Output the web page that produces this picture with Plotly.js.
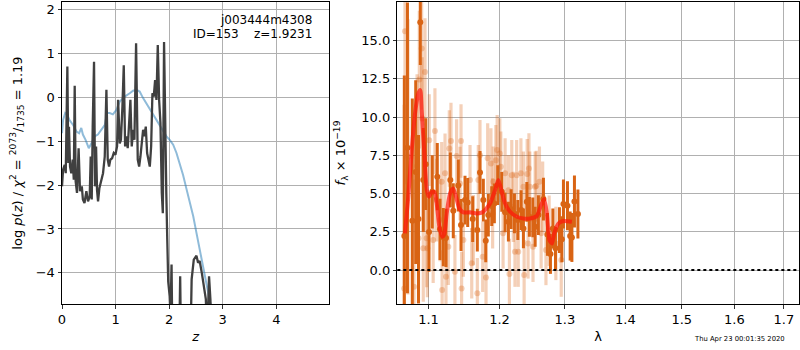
<!DOCTYPE html>
<html>
<head>
<meta charset="utf-8">
<script src="https://cdn.plot.ly/plotly-3.0.1.min.js"></script>
<style>
  html, body { margin: 0; padding: 0; background: #fff; }
  #chart { width: 800px; height: 350px; }
</style>
</head>
<body>
<div id="chart"></div>
<script>
// ---------------- Left panel: redshift PDF ----------------
const zGrid = [0.00,0.02,0.05,0.07,0.10,0.118,0.13,0.15,0.174,0.20,0.22,0.237,0.255,0.28,0.31,0.336,0.37,0.39,0.42,0.455,0.486,0.517,0.536,0.555,0.573,0.598,0.617,0.636,0.654,0.673,0.698,0.735,0.766,0.798,0.829,0.854,0.878,0.903,0.935,0.966,0.997,1.028,1.047,1.078,1.10,1.128,1.153,1.178,1.20,1.227,1.252,1.277,1.302,1.327,1.352,1.383,1.414,1.44,1.464,1.489,1.514,1.539,1.564,1.589,1.614,1.639,1.664,1.688,1.713,1.738,1.763,1.788,1.813,1.838,1.863,1.882,1.905,1.925,1.947,1.965,1.983,2.01,2.025,2.045,2.06,2.19,2.206,2.22,2.40,2.42,2.46,2.51,2.54,2.57,2.61,2.648,2.685,2.71,2.745,2.77,2.80];
const logPz = [-2.03,-1.65,-1.54,-1.73,0.70,-1.50,-0.67,-1.58,-1.73,-1.42,-1.88,0.26,-1.92,-2.18,-1.16,-2.14,-2.03,-2.33,-2.41,-2.14,-2.37,-2.26,-1.35,-2.33,-0.67,0.81,-2.03,-1.12,-2.11,-2.37,-2.07,-1.88,-1.73,-1.35,0.17,-1.42,-1.58,-1.42,-1.39,-1.27,-1.31,-1.12,-0.06,-1.05,-0.97,-0.21,0.73,-1.12,-0.89,-1.16,-0.67,-0.06,-1.12,-0.74,-0.97,1.23,-1.42,-1.58,-1.35,-1.05,-0.74,-0.89,-0.67,-1.27,-1.42,-1.58,-1.12,0.09,0.015,0.39,-0.06,1.19,-0.06,-0.59,-2.18,-2.64,1.26,-0.82,-2.18,-3.24,-4.2,-4.53,-5.0,-3.81,-5.5,-5.5,-4.08,-5.5,-5.5,-4.15,-3.70,-3.61,-3.77,-3.73,-4.00,-4.30,-4.60,-5.5,-4.08,-4.60,-5.5];

const zPrior = [0.00,0.02,0.06,0.10,0.14,0.206,0.27,0.32,0.36,0.39,0.44,0.50,0.55,0.61,0.67,0.735,0.80,0.84,0.89,0.95,1.016,1.078,1.17,1.265,1.327,1.39,1.45,1.514,1.61,1.70,1.794,1.888,1.95,2.01,2.075,2.137,2.20,2.26,2.32,2.386,2.45,2.51,2.57,2.636,2.70,2.76,2.79];
const logPrior = [-0.82,-0.52,-0.36,-0.40,-0.52,-0.63,-0.78,-0.82,-0.70,-0.85,-0.97,-1.16,-1.05,-0.89,-0.85,-0.74,-0.63,-0.36,-0.36,-0.39,-0.29,-0.10,0.015,0.09,0.15,0.17,0.13,-0.02,-0.21,-0.40,-0.59,-0.78,-0.89,-0.97,-1.08,-1.27,-1.50,-1.77,-2.07,-2.37,-2.71,-3.09,-3.47,-3.85,-4.23,-4.64,-4.83];

// ---------------- Right panel: spectrum ----------------
const lamData = [1.0679,1.0720,1.0784,1.0829,1.0866,1.0890,1.0930,1.0963,1.1007,1.1051,1.1119,1.1156,1.1201,1.1238,1.1298,1.1339,1.1409,1.1447,1.1503,1.1541,1.1612,1.1678,1.1716,1.1764,1.1799,1.1836,1.1886,1.1924,1.1974,1.2033,1.2082,1.2131,1.2171,1.2221,1.2272,1.2321,1.2356,1.2408,1.2447,1.2499,1.2535,1.2585,1.2663,1.2725,1.2772,1.2810,1.2851,1.2913,1.2952,1.2977,1.3041,1.3084,1.3112,1.3153,1.3209];
const fluxData = [2.22,7.99,3.22,6.40,3.33,16.2,5.88,6.92,2.48,5.11,6.10,2.66,2.15,2.10,5.88,3.87,5.53,2.94,4.57,4.42,3.33,2.61,6.38,4.57,1.91,3.59,4.18,4.35,5.55,5.11,3.77,3.16,3.98,3.70,3.27,3.92,2.72,4.46,3.48,3.44,2.83,3.59,4.64,2.33,1.05,2.72,1.42,2.61,2.02,4.31,4.20,2.22,2.13,4.48,3.66];
const errData = [10.5,9.5,8.0,6.0,5.5,2.8,3.4,3.0,2.6,2.4,2.2,2.0,1.9,1.9,1.8,1.8,1.7,1.7,1.6,1.6,1.5,1.4,1.4,1.4,1.4,1.4,1.3,1.3,1.3,1.3,1.3,1.3,1.3,1.3,1.3,1.3,1.3,1.3,1.3,1.3,1.3,1.3,1.4,1.4,1.3,1.3,1.4,1.5,1.5,1.6,1.6,1.6,1.6,1.7,1.6];

const lamFaded = [1.0677,1.0688,1.0727,1.0806,1.0847,1.0866,1.0877,1.0908,1.0916,1.0930,1.0953,1.0975,1.0985,1.1010,1.1063,1.1087,1.1110,1.1156,1.1179,1.1185,1.1225,1.1238,1.1270,1.1284,1.1307,1.1362,1.1385,1.1433,1.1447,1.1455,1.1480,1.1574,1.1598,1.1621,1.1678,1.1692,1.1716,1.1755,1.1803,1.1827,1.1874,1.1899,1.1908,1.1946,1.1965,1.2004,1.2019,1.2052,1.2082,1.2131,1.2146,1.2181,1.2204,1.2229,1.2254,1.2278,1.2318,1.2356,1.2367,1.2413,1.2427,1.2440,1.2453,1.2502,1.2535,1.2552,1.2601,1.2627,1.2651,1.2702,1.2752,1.2857,1.2942];
const fluxFaded = [-1.20,15.6,7.4,-1.09,6.8,2.07,12.45,14.48,9.91,1.42,12.95,2.07,1.42,8.49,1.96,9.08,4.57,3.27,5.77,-1.31,6.32,-0.44,1.52,7.95,8.43,-0.11,7.45,5.66,8.43,-1.20,1.96,5.88,0.44,2.61,-1.52,5.88,7.51,0.87,-0.48,7.30,6.97,3.70,5.77,7.18,7.84,7.62,6.75,2.40,6.32,5.22,-0.26,6.20,4.13,1.20,6.20,1.20,6.32,5.44,-0.33,6.27,1.74,6.64,5.44,1.52,5.44,5.49,5.77,2.40,4.79,1.31,2.57,1.74,0.65];
const errFaded = [12,10,9,7,6,5,4.5,4,4,3.5,3.5,3.2,3.2,3,2.8,2.8,2.7,2.7,2.6,2.6,2.6,2.5,2.5,2.5,2.5,2.4,2.4,2.4,2.4,2.4,2.4,2.3,2.3,2.3,2.3,2.3,2.3,2.3,2.3,2.3,2.3,2.3,2.3,2.3,2.3,2.3,2.3,2.3,2.3,2.3,2.3,2.3,2.3,2.3,2.3,2.3,2.3,2.3,2.3,2.3,2.3,2.3,2.3,2.3,2.3,2.3,2.3,2.3,2.3,2.3,2.3,2.4,2.4];

const lamModel = [1.0688,1.0731,1.0776,1.0820,1.0864,1.0890,1.0908,1.0944,1.0978,1.1007,1.1044,1.1079,1.1111,1.1147,1.1188,1.1215,1.1248,1.1294,1.1337,1.1377,1.1423,1.1479,1.1574,1.1670,1.1764,1.1861,1.1934,1.1983,1.2033,1.2082,1.2156,1.2257,1.2356,1.2458,1.2561,1.2627,1.2674,1.2716,1.2756,1.2795,1.2831,1.2899,1.2977,1.3112];
const fluxModel = [2.40,4.79,7.84,10.23,11.54,11.76,10.45,7.62,5.22,4.79,5.11,5.11,4.35,2.83,2.18,2.35,3.70,5.00,5.33,4.79,4.03,3.77,3.77,3.70,3.81,4.35,5.22,5.88,5.11,4.35,3.81,3.48,3.37,3.37,3.53,4.25,4.64,3.70,1.96,1.74,2.40,3.05,3.20,3.16];

const zTicks = [0,1,2,3,4];
const pzTicks = [-4,-3,-2,-1,0,1,2];
const lamTicks = [1.1,1.2,1.3,1.4,1.5,1.6,1.7];
const fluxTicks = [0,2.5,5,7.5,10,12.5,15];

const ORANGE = 'rgb(217,100,20)';
const ORANGE_FADED = 'rgba(217,100,20,0.3)';
const FONT = 'DejaVu Sans, sans-serif';

const traces = [
  { x: zPrior, y: logPrior, xaxis: 'x', yaxis: 'y', mode: 'lines',
    line: { color: 'rgba(31,119,180,0.5)', width: 2 }, hoverinfo: 'skip' },
  { x: zGrid, y: logPz, xaxis: 'x', yaxis: 'y', mode: 'lines',
    line: { color: '#404040', width: 2.3 }, hoverinfo: 'skip' },
  { x: lamFaded, y: fluxFaded, xaxis: 'x2', yaxis: 'y2', mode: 'markers',
    marker: { color: ORANGE_FADED, size: 6 },
    error_y: { type: 'data', array: errFaded, visible: true, thickness: 3.2, width: 0, color: ORANGE_FADED },
    hoverinfo: 'skip' },
  { x: lamData, y: fluxData, xaxis: 'x2', yaxis: 'y2', mode: 'markers',
    marker: { color: ORANGE, size: 6 },
    error_y: { type: 'data', array: errData, visible: true, thickness: 3, width: 0, color: ORANGE },
    hoverinfo: 'skip' },
  { x: lamModel, y: fluxModel, xaxis: 'x2', yaxis: 'y2', mode: 'lines',
    line: { color: 'rgba(255,20,10,0.7)', width: 4, shape: 'spline', smoothing: 0.6 }, hoverinfo: 'skip' }
];

const axBase = {
  showline: true, mirror: true, linecolor: '#000', linewidth: 1,
  ticks: 'outside', ticklen: 3.5, tickwidth: 0.8, tickcolor: '#000',
  showgrid: true, gridcolor: '#b0b0b0', gridwidth: 1,
  zeroline: false, tickfont: { family: FONT, size: 13, color: '#000' }
};

const layout = {
  width: 800, height: 350,
  margin: { l: 62, r: 1, t: 2, b: 46 },
  paper_bgcolor: '#fff', plot_bgcolor: '#fff',
  showlegend: false,
  font: { family: FONT, size: 12, color: '#000' },
  xaxis: Object.assign({}, axBase, {
    domain: [0, 0.3627], range: [0, 4.99],
    tickvals: zTicks, ticktext: zTicks.map(String),
    title: { text: '<i>z</i>', font: { family: FONT, size: 13 }, standoff: 5 }
  }),
  yaxis: Object.assign({}, axBase, {
    domain: [0, 1], range: [-4.71, 2.17],
    tickvals: pzTicks, ticktext: pzTicks.map(v => v < 0 ? '\u2212' + Math.abs(v) : String(v)),
    title: { text: 'log <i>p</i>(<i>z</i>) / <i>χ</i><sup>2</sup> = <sup>2073</sup>/<sub>1735</sub> = 1.19', font: { family: FONT, size: 13 }, standoff: 10 }
  }),
  xaxis2: Object.assign({}, axBase, {
    domain: [0.4550, 1], type: 'log', anchor: 'y2',
    range: [Math.log10(1.0588), Math.log10(1.7317)],
    tickvals: lamTicks, ticktext: lamTicks.map(v => v.toFixed(1)),
    title: { text: 'λ', font: { family: FONT, size: 13 }, standoff: 5 }
  }),
  yaxis2: Object.assign({}, axBase, {
    domain: [0, 1], anchor: 'x2', range: [-2.22, 17.52],
    tickvals: fluxTicks, ticktext: fluxTicks.map(v => v.toFixed(1)),
    title: { text: '<i>f</i><sub>λ</sub> × 10<sup>\u221219</sup>', font: { family: FONT, size: 13 }, standoff: 12 }
  }),
  shapes: [
    { type: 'line', xref: 'x2 domain', yref: 'y2', x0: 0, x1: 1, y0: 0, y1: 0,
      line: { color: '#000', width: 2, dash: 'dot' } }
  ],
  annotations: [
    { xref: 'paper', yref: 'paper', x: 0.3419, y: 0.9404, xanchor: 'right', yanchor: 'middle',
      text: 'j003444m4308', showarrow: false, font: { family: FONT, size: 12, color: '#000' } },
    { xref: 'paper', yref: 'paper', x: 0.3419, y: 0.8940, xanchor: 'right', yanchor: 'middle',
      text: 'ID=153\u00a0\u00a0\u00a0\u00a0z=1.9231', showarrow: false, font: { family: FONT, size: 12, color: '#000' } },
    { xref: 'paper', yref: 'paper', x: 0.9195, y: -0.116, xanchor: 'center', yanchor: 'middle',
      text: 'Thu Apr 23 00:01:35 2020', showarrow: false, font: { family: FONT, size: 6.8, color: '#000' } }
  ]
};

Plotly.newPlot('chart', traces, layout, { staticPlot: true, displayModeBar: false });
</script>
</body>
</html>
